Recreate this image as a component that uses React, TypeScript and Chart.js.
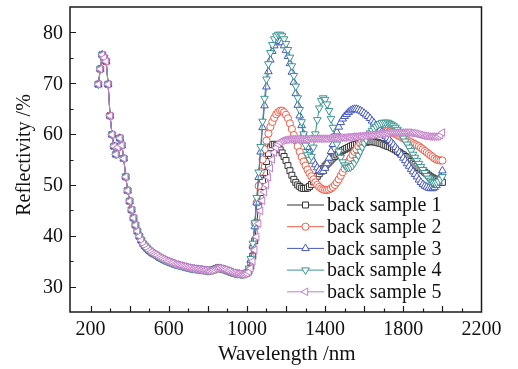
import React, { useEffect, useRef } from "react";
import { Chart, registerables } from "chart.js";

Chart.register(...registerables);

// ---- data ----
const uvWavelengths = [
  240, 250, 260, 270, 280, 290, 300, 310, 320, 330,
  340, 350, 360, 370, 380, 390, 400, 410, 420, 430,
  440, 450, 460, 470, 480, 490, 500, 510, 520, 530,
  540, 550, 560, 570, 580, 590, 600, 610, 620, 630,
  640, 650, 660, 670, 680, 690, 700, 710, 720, 730,
  740, 750, 760, 770, 780, 790, 800, 810, 820, 830,
  840, 850, 860, 870, 880, 890, 900, 910, 920, 930,
  940, 950, 960, 970, 980, 990,
];

// UV-visible part, identical for all five samples
const uvReflectivity = [
  69.8, 72.8, 75.6, 75.0, 74.3, 69.8, 63.6, 59.9, 57.6, 56.0,
  57.4, 59.2, 57.8, 55.2, 51.6, 48.9, 46.8, 45.1, 43.5, 42.1,
  40.9, 39.9, 39.1, 38.4, 37.9, 37.5, 37.1, 36.8, 36.5, 36.3,
  36.1, 35.8, 35.6, 35.4, 35.2, 35.0, 34.9, 34.7, 34.6, 34.4,
  34.3, 34.2, 34.1, 34.0, 33.9, 33.8, 33.7, 33.6, 33.5, 33.5,
  33.4, 33.4, 33.3, 33.3, 33.2, 33.2, 33.1, 33.1, 33.2, 33.3,
  33.5, 33.6, 33.6, 33.5, 33.4, 33.3, 33.1, 33.0, 32.8, 32.7,
  32.6, 32.5, 32.5, 32.4, 32.4, 32.5,
];

const nirWavelengths = [
  1000, 1010, 1020, 1030, 1040, 1050, 1060, 1070, 1080, 1090,
  1100, 1110, 1120, 1130, 1140, 1150, 1160, 1170, 1180, 1190,
  1200, 1210, 1220, 1230, 1240, 1250, 1260, 1270, 1280, 1290,
  1300, 1310, 1320, 1330, 1340, 1350, 1360, 1370, 1380, 1390,
  1400, 1410, 1420, 1430, 1440, 1450, 1460, 1470, 1480, 1490,
  1500, 1510, 1520, 1530, 1540, 1550, 1560, 1570, 1580, 1590,
  1600, 1610, 1620, 1630, 1640, 1650, 1660, 1670, 1680, 1690,
  1700, 1710, 1720, 1730, 1740, 1750, 1760, 1770, 1780, 1790,
  1800, 1810, 1820, 1830, 1840, 1850, 1860, 1870, 1880, 1890,
  1900, 1910, 1920, 1930, 1940, 1950, 1960, 1970, 1980, 1990,
  2000,
];

const sample1Nir = [
  32.6, 33.0, 34.0, 36.0, 39.0, 42.5, 45.8, 48.5, 50.8, 52.4,
  54.6, 56.2, 57.3, 57.9, 58.0, 57.8, 57.4, 56.9, 56.3, 55.6,
  54.8, 53.8, 52.8, 51.9, 51.1, 50.5, 50.0, 49.7, 49.4, 49.3,
  49.3, 49.4, 49.7, 50.1, 50.6, 51.2, 51.7, 52.2, 52.7, 53.2,
  53.7, 54.1, 54.5, 54.9, 55.3, 55.6, 55.9, 56.2, 56.5, 56.8,
  57.0, 57.2, 57.4, 57.6, 57.8, 57.9, 58.0, 58.1, 58.2, 58.3,
  58.4, 58.4, 58.5, 58.5, 58.5, 58.5, 58.4, 58.3, 58.2, 58.1,
  57.9, 57.8, 57.6, 57.5, 57.3, 57.1, 56.9, 56.6, 56.4, 56.1,
  55.9, 55.6, 55.3, 54.9, 54.6, 54.3, 54.0, 53.7, 53.4, 53.1,
  52.8, 52.5, 52.2, 51.9, 51.6, 51.4, 51.2, 51.0, 50.8, 50.6,
  50.5,
];

const sample2Nir = [
  32.7, 33.3, 34.8, 37.8, 42.5, 46.5, 49.8, 52.6, 55.0, 57.0,
  58.7, 60.1, 61.4, 62.4, 63.2, 63.9, 64.3, 64.6, 64.6, 64.3,
  63.8, 63.1, 62.1, 61.0, 59.8, 58.7, 57.6, 56.5, 55.5, 54.6,
  53.8, 53.0, 52.3, 51.7, 51.1, 50.5, 50.0, 49.6, 49.3, 49.1,
  49.0, 49.0, 49.1, 49.3, 49.6, 50.0, 50.5, 51.1, 51.8, 52.5,
  53.2, 53.9, 54.6, 55.3, 55.9, 56.5, 57.0, 57.6, 58.1, 58.6,
  59.0, 59.4, 59.7, 60.0, 60.2, 60.3, 60.4, 60.5, 60.5, 60.6,
  60.6, 60.6, 60.6, 60.5, 60.4, 60.2, 60.0, 59.8, 59.6, 59.4,
  59.2, 59.0, 58.8, 58.6, 58.4, 58.2, 58.0, 57.8, 57.6, 57.3,
  57.0, 56.7, 56.4, 56.1, 55.8, 55.5, 55.2, 55.0, 54.9, 54.8,
  54.8,
];

const sample3Nir = [
  32.7, 33.4, 35.2, 38.0, 41.8, 46.5, 51.5, 56.5, 61.3, 65.6,
  69.3, 72.3, 74.6, 76.3, 77.4, 78.0, 78.3, 78.3, 78.0, 77.4,
  76.5, 75.3, 73.9, 72.2, 70.2, 68.0, 65.7, 63.6, 61.7, 60.0,
  58.6, 57.4, 56.3, 55.4, 54.7, 54.0, 53.4, 52.9, 52.6, 52.7,
  53.3, 54.2, 55.3, 56.6, 58.0, 59.3, 60.4, 61.4, 62.3, 63.0,
  63.5, 63.9, 64.3, 64.6, 64.8, 64.9, 64.9, 64.8, 64.6, 64.4,
  64.1, 63.8, 63.5, 63.1, 62.6, 62.2, 61.7, 61.3, 60.8, 60.4,
  60.0, 59.6, 59.2, 58.8, 58.3, 57.9, 57.4, 56.9, 56.4, 55.9,
  55.3, 54.8, 54.2, 53.7, 53.1, 52.6, 52.1, 51.6, 51.0, 50.5,
  50.1, 49.8, 49.6, 49.4, 49.3, 49.3, 49.5, 49.9, 50.6, 51.6,
  52.8,
];

const sample4Nir = [
  32.8, 33.6, 35.5, 38.5, 42.5, 47.5, 52.5, 57.5, 62.5, 67.0,
  70.8, 73.8, 76.0, 77.6, 78.7, 79.3, 79.6, 79.6, 79.3, 78.7,
  77.8, 76.6, 75.1, 73.4, 71.5, 69.4, 67.1, 64.8, 62.4, 60.0,
  57.8, 55.9, 55.0, 55.6, 57.4, 60.0, 62.8, 65.1, 66.6, 67.1,
  66.8, 65.9, 64.6, 63.0, 61.3, 59.6, 58.0, 56.6, 55.4, 54.5,
  53.9, 53.5, 53.4, 53.5, 53.8, 54.3, 55.0, 55.8, 56.6, 57.4,
  58.2, 58.9, 59.6, 60.2, 60.7, 61.1, 61.5, 61.8, 62.0, 62.2,
  62.3, 62.3, 62.3, 62.1, 61.9, 61.6, 61.3, 60.9, 60.4, 59.8,
  59.2, 58.6, 58.0, 57.4, 56.7, 56.0, 55.4, 54.8, 54.2, 53.6,
  53.0, 52.4, 51.8, 51.3, 50.9, 50.6, 50.5, 50.5, 50.7, 51.1,
  51.6,
];

const sample5Nir = [
  32.6, 32.9, 33.6, 35.0, 37.2, 39.8, 42.4, 44.9, 46.9, 48.6,
  50.0, 51.5, 53.3, 55.0, 56.4, 57.3, 58.0, 58.4, 58.7, 58.8,
  58.9, 58.9, 59.0, 59.0, 59.0, 59.0, 59.0, 59.0, 59.0, 59.0,
  59.0, 59.0, 59.1, 59.1, 59.1, 59.1, 59.1, 59.1, 59.1, 59.1,
  59.1, 59.1, 59.2, 59.2, 59.2, 59.2, 59.2, 59.2, 59.3, 59.3,
  59.3, 59.4, 59.4, 59.4, 59.5, 59.5, 59.5, 59.6, 59.6, 59.6,
  59.7, 59.7, 59.8, 59.8, 59.8, 59.9, 59.9, 60.0, 60.0, 60.1,
  60.1, 60.2, 60.2, 60.3, 60.3, 60.3, 60.3, 60.3, 60.3, 60.3,
  60.3, 60.3, 60.3, 60.3, 60.2, 60.2, 60.1, 60.0, 59.9, 59.8,
  59.7, 59.6, 59.6, 59.5, 59.5, 59.5, 59.5, 59.5, 59.6, 59.8,
  60.3,
];

const seriesNames = ["back sample 1", "back sample 2", "back sample 3", "back sample 4", "back sample 5"];
const seriesNir = [sample1Nir, sample2Nir, sample3Nir, sample4Nir, sample5Nir];

const xTickLabels = [200, 600, 1000, 1400, 1800, 2200];
const yTickLabels = [30, 40, 50, 60, 70, 80];
const xTitle = "Wavelength /nm";
const yTitle = "Reflectivity /%";

// ---- styles ----
const colors = ["#333333", "#f25c47", "#4557bd", "#3a9592", "#c27ec8"];
const pointStyles = ["rect", "circle", "triangle", "triangle", "triangle"];
const pointRotations = [0, 0, 0, 180, -90];
const pointRadii = [4.2, 3.6, 4.4, 4.4, 4.4];
const FONT = '"Liberation Serif", "Times New Roman", serif';

function drawMarker(ctx: CanvasRenderingContext2D, style: string, rot: number, r: number, x: number, y: number) {
  ctx.beginPath();
  if (style === "rect") {
    const s = Math.SQRT1_2 * r;
    ctx.rect(x - s, y - s, 2 * s, 2 * s);
  } else if (style === "circle") {
    ctx.arc(x, y, r, 0, Math.PI * 2);
  } else {
    let rad = (rot * Math.PI) / 180;
    ctx.moveTo(x + Math.sin(rad) * r, y - Math.cos(rad) * r);
    rad += (2 * Math.PI) / 3;
    ctx.lineTo(x + Math.sin(rad) * r, y - Math.cos(rad) * r);
    rad += (2 * Math.PI) / 3;
    ctx.lineTo(x + Math.sin(rad) * r, y - Math.cos(rad) * r);
    ctx.closePath();
  }
  ctx.fillStyle = "#ffffff";
  ctx.fill();
  ctx.stroke();
}

const decorPlugin = {
  id: "decor",
  afterDraw(chart: any) {
    const ctx: CanvasRenderingContext2D = chart.ctx;
    const { left, top, right, bottom } = chart.chartArea;
    const xs = chart.scales.x;
    const ys = chart.scales.y;
    ctx.save();
    // frame
    ctx.strokeStyle = "#1a1a1a";
    ctx.lineWidth = 1.5;
    ctx.strokeRect(left, top, right - left, bottom - top);
    // ticks
    ctx.lineWidth = 1.2;
    ctx.beginPath();
    for (let v = 200; v < 2200; v += 100) {
      const px = Math.round(xs.getPixelForValue(v)) + 0.5;
      const len = v % 200 === 0 ? 6 : 3.5;
      ctx.moveTo(px, bottom);
      ctx.lineTo(px, bottom - len);
    }
    for (let v = 30; v <= 80; v += 5) {
      const py = Math.round(ys.getPixelForValue(v)) + 0.5;
      const len = v % 10 === 0 ? 6 : 3.5;
      ctx.moveTo(left, py);
      ctx.lineTo(left + len, py);
    }
    ctx.stroke();
    // tick labels
    ctx.fillStyle = "#111111";
    ctx.font = `20px ${FONT}`;
    ctx.textBaseline = "middle";
    ctx.textAlign = "center";
    xTickLabels.forEach((v) => ctx.fillText(String(v), xs.getPixelForValue(v), 330));
    ctx.textAlign = "right";
    yTickLabels.forEach((v) => ctx.fillText(String(v), 63, ys.getPixelForValue(v) + 1));
    // titles
    ctx.font = `21px ${FONT}`;
    ctx.textAlign = "center";
    ctx.fillText(xTitle, (left + right) / 2 + 11, 354);
    ctx.save();
    ctx.translate(25, 155);
    ctx.rotate(-Math.PI / 2);
    ctx.font = `20px ${FONT}`;
    ctx.fillText(yTitle, 0, 0);
    ctx.restore();
    // legend
    ctx.font = `20px ${FONT}`;
    ctx.textAlign = "left";
    seriesNames.forEach((name, i) => {
      const y = 205 + i * 21.7;
      ctx.strokeStyle = colors[i];
      ctx.lineWidth = 1;
      ctx.beginPath();
      ctx.moveTo(287, y);
      ctx.lineTo(324, y);
      ctx.stroke();
      drawMarker(ctx, pointStyles[i], pointRotations[i], pointRadii[i], 305.5, y);
      ctx.fillStyle = "#111111";
      ctx.fillText(name, 327, y + 1);
    });
    ctx.restore();
  },
};

export default function App() {
  const canvasRef = useRef<HTMLCanvasElement | null>(null);
  useEffect(() => {
    const canvas = canvasRef.current;
    if (!canvas) return;
    const wavelengths = [...uvWavelengths, ...nirWavelengths];
    const datasets = seriesNames.map((name, i) => {
      const values = [...uvReflectivity, ...seriesNir[i]];
      return {
        label: name,
        data: wavelengths.map((w, k) => ({ x: w, y: values[k] })),
        borderColor: colors[i],
        borderWidth: 1,
        pointStyle: pointStyles[i],
        rotation: pointRotations[i],
        pointRadius: pointRadii[i],
        pointBorderWidth: 1,
        pointBorderColor: colors[i],
        pointBackgroundColor: "#ffffff",
        tension: 0,
        order: 5 - i,
      };
    });
    const chart = new Chart(canvas, {
      type: "line",
      data: { datasets } as any,
      options: {
        animation: false,
        responsive: false,
        devicePixelRatio: 1,
        layout: { padding: { left: 70, top: 7, right: 36.5, bottom: 57 } },
        scales: {
          x: { type: "linear", min: 95, max: 2200, display: false },
          y: { type: "linear", min: 25, max: 85, display: false },
        },
        plugins: { legend: { display: false }, tooltip: { enabled: false } },
      } as any,
      plugins: [decorPlugin],
    });
    return () => chart.destroy();
  }, []);
  return (
    <div style={{ position: "fixed", left: 0, top: 0, width: 518, height: 369, background: "#ffffff" }}>
      <canvas ref={canvasRef} width={518} height={369} style={{ width: 518, height: 369, display: "block" }} />
    </div>
  );
}
